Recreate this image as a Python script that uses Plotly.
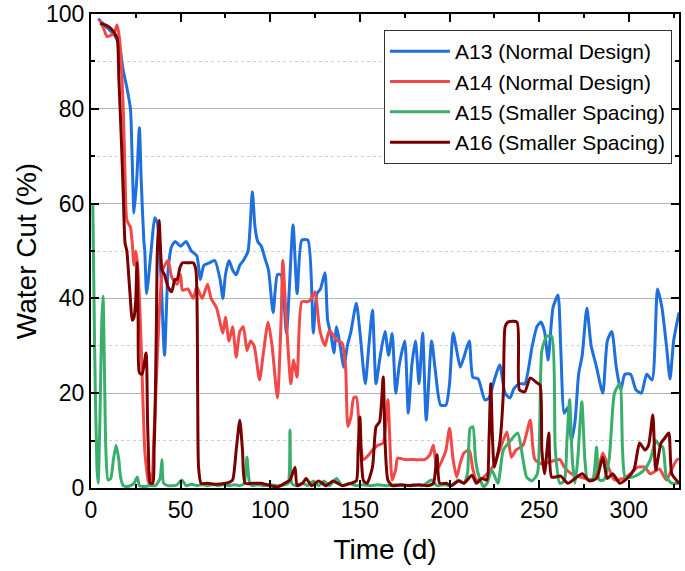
import plotly.graph_objects as go

# Water cut (%) vs time (d)
a13_t = [4, 8, 12, 14, 16, 18, 20, 22, 23, 24, 25.5, 27, 28, 29.5, 30, 31, 32, 34, 35.6, 37, 39, 41, 43, 45, 47, 50,
         53, 56, 59, 61, 63, 66, 69, 72, 73.6, 75, 77, 79, 81, 83, 85, 87.6, 90, 91.5, 93, 95, 97, 99, 101.6, 104,
         106, 109, 112.7, 115, 117.6, 121, 124, 126, 128, 130.5, 132, 134, 135.5, 137, 139, 141, 143, 145, 148,
         150, 153, 155, 157, 159, 161, 164, 166, 168, 170, 172, 175, 177, 179, 181, 183, 185, 187, 190, 192, 195,
         198, 200, 202, 204, 206, 208, 211, 213, 216, 219.7, 222, 225, 228, 231, 233.7, 236, 239, 242, 246, 248.7,
         251, 253, 255, 257.7, 260.5, 262, 264, 266, 268, 270, 272, 274, 276.6, 279, 282, 285.5, 288, 290.5, 293,
         295.5, 297.8, 301, 304, 307, 310, 313, 316, 318.5, 321, 323, 325, 328]
a13_wc = [99, 97.5, 96, 95, 93, 88, 84.5, 80, 69, 58, 65, 76, 65, 52, 50, 41, 44, 52, 57, 56, 45, 28, 46, 51, 52, 51,
          52, 50, 49, 44, 47, 47.5, 48, 44, 40, 45, 48, 46, 45, 47, 48, 50, 62.5, 55, 52, 51, 48.5, 46, 37, 45,
          45, 32.7, 55.5, 41, 52.3, 52.3, 32.7, 41, 42, 45.4, 35.4, 32, 28.5, 34, 30, 25.5, 30, 33, 39,
          33, 22, 30, 37.5, 22, 27, 33, 28, 32.6, 20, 26, 31, 15.8, 26, 31, 22, 32.7, 14.3, 31, 25, 17.5,
          17.5, 22, 32.7, 29, 25.5, 27.6, 31, 23.4, 23, 18.6, 19, 22.8, 26, 20, 19, 21, 22, 22, 29.7, 34,
          35, 33, 27, 38, 40.7, 30, 15.8, 17, 10, 14, 24, 28, 38, 30, 25.5, 20, 31, 33, 25.5,
          20.7, 24, 24, 20.7, 20, 24, 22.8, 42, 38, 30, 23, 31, 37]

a14_t = [5, 7, 9, 11, 13, 14.5, 16, 18, 19, 20, 22, 23, 24, 25, 26, 27, 28, 29, 30, 31, 32, 33, 34, 35, 36, 38, 40,
         43, 45, 48, 50, 51, 54, 57, 59, 62, 65, 67, 70, 73.6, 75, 77, 79, 81, 83, 85, 87, 89, 91, 94, 96, 98.8,
         101, 104, 106, 107, 109, 111.5, 113, 115, 117.6, 121, 123, 125, 127, 128, 130.5, 133, 137, 140, 142,
         143.3, 145, 146.5, 148, 150, 152, 155, 157, 160, 163, 165.6, 168, 170, 171, 175, 180, 186, 189, 191,
         193, 196, 198, 200, 202, 204, 206, 208, 211, 213, 215, 218, 221, 224, 228, 232, 234.5, 237, 241, 245,
         247.6, 252, 256, 261.6, 264, 268, 273, 280, 283, 285.5, 289, 292, 297, 301, 305, 309, 312, 317, 321,
         324, 327, 329]
a14_wc = [98.7, 97, 95.2, 95.5, 96, 97.7, 94.5, 80, 65.6, 56.5, 55, 51.7, 47, 50, 47, 40, 30, 18, 8, 4, 1, 3, 1, 10,
          18.6, 36, 46, 48, 44.5, 43, 45, 41.7, 42, 40, 42.4, 40, 43, 40, 38, 32.7, 36, 31, 34, 27.6, 33, 34, 29,
          31, 30, 22.8, 28, 35, 30, 19, 35, 48, 35, 22, 27, 23.4, 39.3, 39.3, 40, 41.4, 35, 32.7, 30, 33.3,
          31.2, 30.6, 25.5, 13, 15, 19, 19.2, 10, 6, 7, 8, 9, 9.5, 18.6, 1.7, 4, 6.3, 6, 6, 6, 7, 9, 3.8, 6, 8,
          12.6, 6, 2.3, 5.3, 7.4, 8, 4, 1.7, 2, 3, 4.4, 8, 11.8, 6.5, 8, 9, 14.3, 6, 5, 5.5, 6, 4.4, 3, 2.3,
          1.7, 4, 7.4, 4, 1.7, 2, 3, 4.4, 4.4, 3, 4, 1.7, 4, 6, 6]

a15_t = [1, 2, 3.3, 4, 5, 6, 6.7, 7.5, 8.3, 9.5, 11, 12.5, 14, 15.5, 16.5, 18, 20, 22, 24, 25.8, 27, 30, 33, 36,
         38.5, 39.6, 40.5, 43, 46, 48, 50.7, 53, 56, 59, 62, 65, 68, 71, 74, 77, 80, 83, 85.5, 87, 88.5, 90, 93,
         96, 100, 104, 108, 110, 111, 112, 114, 118, 121, 124, 127, 130, 133, 137, 140, 144, 148, 152, 156, 160,
         165, 170, 175, 180, 185, 190, 193, 197, 201, 205, 208, 210, 211.5, 213, 214.5, 216, 219, 221, 223.6,
         227, 230, 234, 238, 241, 243, 246, 249, 251.5, 254.3, 257, 259, 261.5, 264, 265.5, 267, 268.5, 270,
         271.5, 273.8, 275.5, 277, 280, 282, 283.5, 286, 289, 292, 295, 296.5, 298, 302, 306, 309, 312, 315,
         317, 319, 321, 324, 328]
a15_wc = [60, 30, 4.4, 1, 15, 35, 40.5, 25, 8, 1.7, 2, 6, 9, 6, 2.3, 0.5, 0.3, 0.5, 1, 2.3, 0.5, 0.3, 0.5, 0.5,
          2, 6, 1, 0.5, 0.5, 0.7, 1.7, 0.5, 0.8, 0.5, 0.7, 0.5, 0.7, 0.5, 0.7, 0.5, 0.7, 0.5, 1, 6.5, 1, 0.5, 0.7,
          0.5, 0.7, 0.5, 0.7, 1, 12.2, 1, 0.5, 1, 0.5, 1.5, 0.5, 1.5, 0.5, 2, 0.5, 1, 0.5, 0.7, 0.5, 0.7,
          0.5, 0.7, 0.5, 0.7, 0.5, 1.7, 0.5, 0.7, 0.5, 1.7, 1, 3, 12.6, 12.9, 6, 3, 0.3, 1, 3.8,
          1, 8, 10, 11.6, 6, 2.3, 1.5, 3, 29, 32, 32, 8, 1, 1.5, 10, 18.6, 6, 1,
          6, 18.2, 6, 1.7, 2, 8.6, 1.7, 1.7, 6, 20, 22, 8, 2.3, 2.3, 3, 4, 6, 10,
          9, 8.6, 2.3, 1, 1]

a16_t = [5, 8, 11, 14.5, 15.5, 17, 18, 19, 20, 21, 22, 23, 24, 25, 25.6, 26.3, 27, 28.5, 30.7, 31.5, 32, 33, 34.5,
         35.2, 35.7, 36.5, 37, 38, 39.6, 41, 43, 45, 46.8, 48, 49.7, 51, 54, 57, 58.5, 59.5, 60, 61.4, 65, 70, 75,
         77, 79, 81, 83, 84.5, 86, 90, 95, 100, 104, 108, 111, 113.8, 115, 118, 120, 123, 127, 131, 135, 140,
         145, 148, 149, 150, 151, 152, 154, 157, 159, 161, 163, 164, 165.6, 168, 173, 178, 183, 188, 191, 193,
         194.5, 198, 201, 205, 208, 212.5, 215, 218, 220.8, 222, 223, 224, 225, 228, 230, 231, 232.6, 237.6, 239,
         242, 245, 248.7, 250.5, 251.5, 253, 255.4, 257, 262, 266, 270, 274, 278, 282, 285.5, 288, 291, 295,
         299, 303, 306, 309, 311, 313.4, 315, 318, 320, 322.3, 324, 328]
a16_wc = [98, 97.7, 97, 95, 86.7, 72.8, 62, 51.7, 50, 45, 39.7, 35.4, 36, 40, 47.5, 35, 24.3, 24, 28.5, 15, 8, 1, 1,
          8, 15, 35, 50, 56.5, 46, 45, 42.4, 41.4, 44, 44, 46.6, 47.5, 47.5, 47.5, 46, 20, 4.4, 1, 1, 0.8, 1,
          1.2, 1.7, 8, 14.3, 8, 1, 1, 1, 0.5, 0.2, 1, 1.7, 4.4, 0.5, 1, 2, 0.5, 1.5, 0.5, 1.5, 0.5,
          1, 1.5, 8, 15, 5, 1.5, 1, 4.4, 12.9, 14, 23.4, 10, 1.7, 0.5, 0.7, 0.5, 0.7, 0.5, 1, 7,
          1, 1, 0.5, 1.5, 1, 2.7, 1, 2, 1.7, 10, 22, 10, 4.4, 9.5, 20, 34, 35, 35, 20.7,
          20.3, 23.2, 22.2, 21.7, 8, 3, 11.6, 2.3, 2.5, 1, 2, 3, 1.5, 2, 6.5, 2, 3, 1,
          2, 4, 9.5, 8, 9, 15.4, 3.8, 9.5, 10.5, 11.6, 3, 1]

series = [
    ("A13 (Normal Design)", a13_t, a13_wc, "#1F6FDC"),
    ("A14 (Normal Design)", a14_t, a14_wc, "#F24848"),
    ("A15 (Smaller Spacing)", a15_t, a15_wc, "#3AAE6B"),
    ("A16 (Smaller Spacing)", a16_t, a16_wc, "#7A0000"),
]

fig = go.Figure()
for name, t, wc, color in series:
    fig.add_trace(go.Scatter(x=t, y=wc, name=name, mode="lines",
                             line=dict(color=color, width=3, shape="spline", smoothing=0.6)))

font_family = "Arial, Liberation Sans, sans-serif"

fig.update_layout(
    width=685, height=571,
    margin=dict(l=91, r=6, t=14, b=83),
    plot_bgcolor="white",
    paper_bgcolor="white",
    font=dict(family=font_family, size=22, color="black"),
    showlegend=True,
    legend=dict(
        x=0.988, xanchor="right", y=0.966, yanchor="top",
        bgcolor="white", bordercolor="#333333", borderwidth=1,
        font=dict(size=21), tracegroupgap=0, itemwidth=60,
    ),
    xaxis=dict(
        range=[0, 328], dtick=50, tick0=0, automargin=False, ticklabeloverflow="allow",
        title=dict(text="Time (d)", font=dict(size=28), standoff=18),
        showline=True, linecolor="black", linewidth=2, mirror="ticks",
        ticks="inside", ticklen=8, tickwidth=2, tickcolor="black",
        showgrid=False, zeroline=False,
        minor=dict(dtick=25, ticks="inside", ticklen=4, tickwidth=2, tickcolor="black", showgrid=False),
        tickfont=dict(size=23),
    ),
    yaxis=dict(
        range=[0, 100], dtick=20, tick0=0, automargin=False, ticklabeloverflow="allow",
        title=dict(text="Water Cut (%)", font=dict(size=28), standoff=1),
        showline=True, linecolor="black", linewidth=2, mirror="ticks",
        ticks="inside", ticklen=8, tickwidth=2, tickcolor="black",
        showgrid=True, gridcolor="#b4b4b4", gridwidth=1, zeroline=False,
        minor=dict(dtick=10, ticks="inside", ticklen=4, tickwidth=2, tickcolor="black",
                   showgrid=True, gridcolor="#d0d0d0", griddash="dot", gridwidth=1),
        tickfont=dict(size=23),
    ),
)

# drop the browser's default 8px body margin so the figure fills the window
fig.write_html("out.html", config={"displayModeBar": False},
               post_script="document.body.style.margin = '0px';")
